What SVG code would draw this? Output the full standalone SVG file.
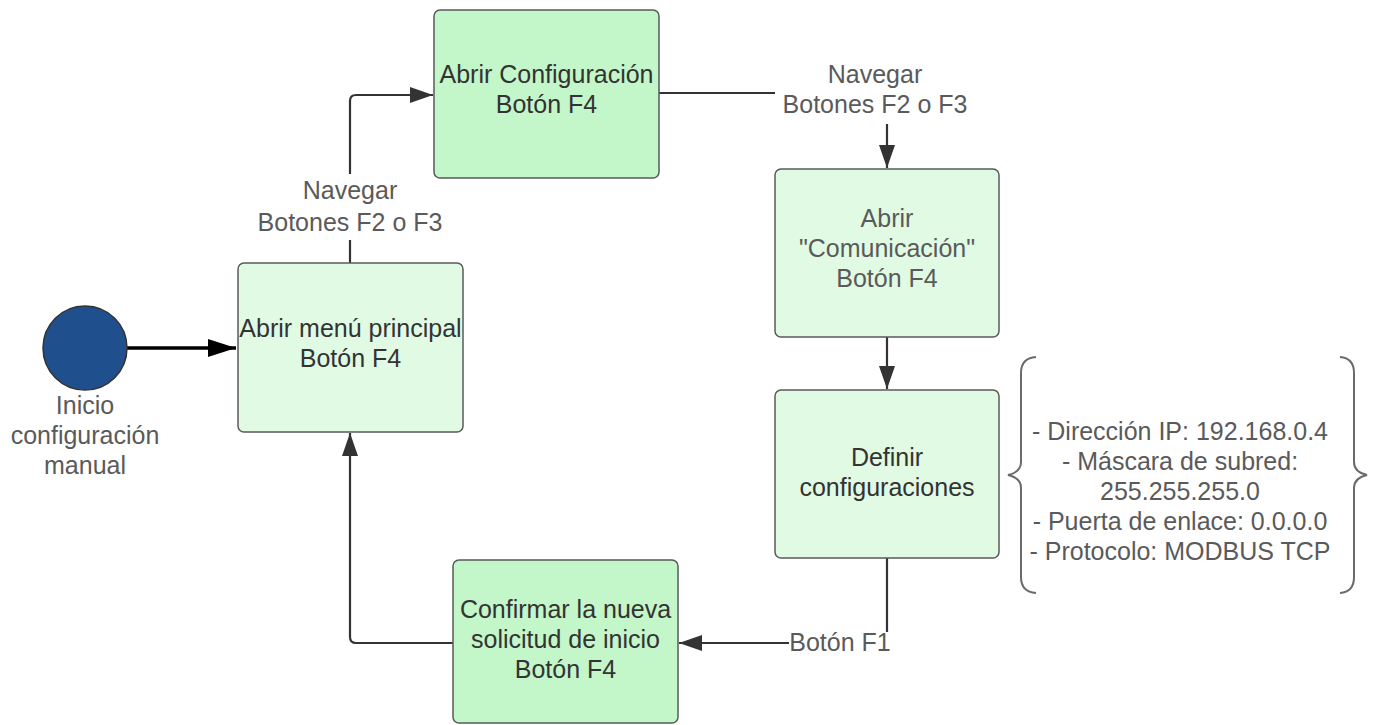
<svg xmlns="http://www.w3.org/2000/svg" width="1374" height="725" viewBox="0 0 1374 725">
  <style>
    text { font-family: "Liberation Sans", Arial, sans-serif; font-size: 25px; text-anchor: middle; }
    .node { stroke: #5a5a5a; stroke-width: 1.5; }
    .light { fill: #e1fae3; }
    .dark { fill: #c3f6c9; }
    .t-dark { fill: #333333; }
    .t-gray { fill: #5a5a5a; }
    .conn { fill: none; stroke: #333333; stroke-width: 2.2; }
    .lblbg { fill: #ffffff; }
    .brace { fill: none; stroke: #6a6a6a; stroke-width: 2; }
  </style>
  <defs>
    <marker id="arrow" markerUnits="userSpaceOnUse" markerWidth="24" markerHeight="18" viewBox="0 0 24 18" refX="23" refY="9" orient="auto">
      <path d="M0,1 L23,9 L0,17 Z" fill="#333333"/>
    </marker>
    <marker id="arrow-bold" markerUnits="userSpaceOnUse" markerWidth="29" markerHeight="20" viewBox="0 0 29 20" refX="28" refY="10" orient="auto">
      <path d="M0,1 L28,10 L0,19 Z" fill="#000000"/>
    </marker>
  </defs>

  <!-- connectors -->
  <g id="connectors">
    <path class="conn" d="M127,348 H236" stroke="#000000" style="stroke:#000;stroke-width:3.5" marker-end="url(#arrow-bold)"/>
    <path class="conn" d="M350,263 V101 Q350,95 356,95 H433" marker-end="url(#arrow)"/>
    <path class="conn" d="M659,93 H887 V168" marker-end="url(#arrow)"/>
    <path class="conn" d="M887,337 V389" marker-end="url(#arrow)"/>
    <path class="conn" d="M887,558 V643 H679" marker-end="url(#arrow)"/>
    <path class="conn" d="M453,643 H356 Q350,643 350,637 V433" marker-end="url(#arrow)"/>

    <!-- connector labels -->
    <g id="label-nav-left">
      <rect class="lblbg" x="256" y="174" width="189" height="66"/>
      <text class="t-gray" x="350" y="199">Navegar</text>
      <text class="t-gray" x="350" y="231">Botones F2 o F3</text>
    </g>
    <g id="label-nav-right">
      <rect class="lblbg" x="775" y="60" width="202" height="64"/>
      <text class="t-gray" x="875" y="83">Navegar</text>
      <text class="t-gray" x="875" y="113">Botones F2 o F3</text>
    </g>
    <g id="label-f1">
      <rect class="lblbg" x="789" y="632" width="102" height="26"/>
      <text class="t-gray" x="840" y="651">Botón F1</text>
    </g>
  </g>

  <!-- start event -->
  <g id="start">
    <circle cx="85" cy="348" r="42" fill="#1f4f8d" stroke="#333333" stroke-width="1.5"/>
    <text class="t-gray" x="85" y="414">Inicio</text>
    <text class="t-gray" x="85" y="444">configuración</text>
    <text class="t-gray" x="85" y="474">manual</text>
  </g>

  <g id="menu-principal">
    <rect class="node light" x="238" y="263" width="225" height="169" rx="6"/>
    <text class="t-dark" x="350.5" y="337">Abrir menú principal</text>
    <text class="t-dark" x="350.5" y="367">Botón F4</text>
  </g>

  <g id="abrir-configuracion">
    <rect class="node dark" x="434" y="10" width="225" height="168" rx="6"/>
    <text class="t-dark" x="546.5" y="83">Abrir Configuración</text>
    <text class="t-dark" x="546.5" y="113">Botón F4</text>
  </g>

  <g id="abrir-comunicacion">
    <rect class="node light" x="775" y="169" width="224" height="168" rx="6"/>
    <text class="t-gray" x="887" y="227">Abrir</text>
    <text class="t-gray" x="887" y="257">"Comunicación"</text>
    <text class="t-gray" x="887" y="287">Botón F4</text>
  </g>

  <g id="definir-configuraciones">
    <rect class="node light" x="775" y="390" width="224" height="168" rx="6"/>
    <text class="t-dark" x="887" y="466">Definir</text>
    <text class="t-dark" x="887" y="496">configuraciones</text>
  </g>

  <g id="confirmar-solicitud">
    <rect class="node dark" x="453" y="560" width="225" height="163" rx="6"/>
    <text class="t-dark" x="565.5" y="618">Confirmar la nueva</text>
    <text class="t-dark" x="565.5" y="648">solicitud de inicio</text>
    <text class="t-dark" x="565.5" y="678">Botón F4</text>
  </g>

  <!-- network settings annotation -->
  <g id="parametros-red">
    <path class="brace" d="M1036,357 Q1021,358 1021,373 V462 Q1021,472 1008,475 Q1021,478 1021,488 V577 Q1021,592 1036,593"/>
    <path class="brace" d="M1340,357 Q1354,358 1354,373 V462 Q1354,472 1367,475 Q1354,478 1354,488 V577 Q1354,592 1340,593"/>
    <text class="t-gray" x="1180" y="440">- Dirección IP: 192.168.0.4</text>
    <text class="t-gray" x="1180" y="470">- Máscara de subred:</text>
    <text class="t-gray" x="1180" y="500">255.255.255.0</text>
    <text class="t-gray" x="1180" y="530">- Puerta de enlace: 0.0.0.0</text>
    <text class="t-gray" x="1180" y="560">- Protocolo: MODBUS TCP</text>
  </g>
</svg>
